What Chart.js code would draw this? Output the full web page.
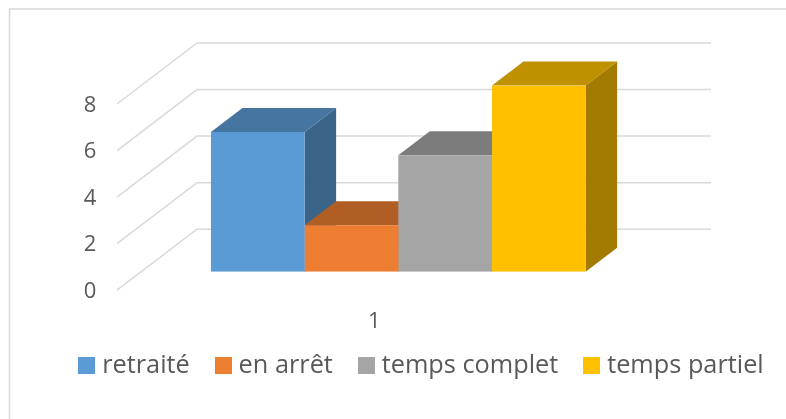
<!DOCTYPE html>
<html>
<head>
<meta charset="utf-8">
<style>
  body { margin: 0; background: #fff; }
  #wrap { width: 786px; height: 419px; }
</style>
<script src="https://cdn.jsdelivr.net/npm/chart.js@4"></script>
</head>
<body>
<div id="wrap"><canvas id="graf"></canvas></div>
<script>
var categories = ["1"];
var seriesNames = ["retraité", "en arrêt", "temps complet", "temps partiel"];
var retraite = [6];
var enArret = [2];
var tempsComplet = [5];
var tempsPartiel = [8];
var seriesValues = [retraite, enArret, tempsComplet, tempsPartiel];

var frontColors = ["#5B9BD5", "#ED7D31", "#A5A5A5", "#FFC000"];
var topColors = ["#4675A1", "#B15E25", "#7C7C7C", "#BF9000"];
var sideColors = ["#3A6488", "#984F1F", "#6A6A6A", "#A37B00"];
var textColor = "#595959";
var gridColor = "#D9D9D9";

// depth of the fake 3D box, in pixels
var barDepthX = 31.5, barDepthY = 24;
// how far the walls sit from the plane of the bars
var wallBackX = 55.7, wallBackY = 42.5;
var wallFrontX = 24.3, wallFrontY = 18.5;
// the legend is not centred on the canvas in the picture
var legendShiftX = 30.8, legendShiftY = -9;

function poly(ctx, pts, color) {
  ctx.fillStyle = color;
  ctx.beginPath();
  ctx.moveTo(pts[0][0], pts[0][1]);
  for (var i = 1; i < pts.length; i++) ctx.lineTo(pts[i][0], pts[i][1]);
  ctx.closePath();
  ctx.fill();
}

// square legend marker, as a canvas so the gap to the text stays tight
function legendSquare(color) {
  var c = document.createElement("canvas");
  c.width = 17;
  c.height = 17;
  var g = c.getContext("2d");
  g.fillStyle = color;
  g.fillRect(0, 0, 17, 17);
  return c;
}

var walls3d = {
  id: "walls3d",
  afterLayout: function (chart) {
    chart.legend.left += legendShiftX;
    chart.legend.right += legendShiftX;
    chart.legend.top += legendShiftY;
    chart.legend.bottom += legendShiftY;
  },
  beforeDatasetsDraw: function (chart) {
    var ctx = chart.ctx, area = chart.chartArea, y = chart.scales.y;
    ctx.save();

    // outer frame, only left and top are in the picture
    ctx.strokeStyle = gridColor;
    ctx.lineWidth = 1.5;
    ctx.beginPath();
    ctx.moveTo(9.5, 419);
    ctx.lineTo(9.5, 9);
    ctx.lineTo(786, 9);
    ctx.stroke();

    // gridlines: side wall then back wall
    y.ticks.forEach(function (t) {
      var py = y.getPixelForValue(t.value);
      ctx.beginPath();
      ctx.moveTo(area.left - wallFrontX, py + wallFrontY);
      ctx.lineTo(area.left + wallBackX, py - wallBackY);
      ctx.lineTo(area.right + wallBackX, py - wallBackY);
      ctx.stroke();
    });

    // sides and tops of the bars, fronts are drawn by the library after this
    seriesValues.forEach(function (v, i) {
      var b = chart.getDatasetMeta(i).data[0];
      var l = b.x - b.width / 2, r = b.x + b.width / 2;
      poly(ctx, [[r, b.y], [r + barDepthX, b.y - barDepthY], [r + barDepthX, b.base - barDepthY], [r, b.base]], sideColors[i]);
      poly(ctx, [[l, b.y], [r, b.y], [r + barDepthX, b.y - barDepthY], [l + barDepthX, b.y - barDepthY]], topColors[i]);
    });
    ctx.restore();
  }
};

var datasets = seriesNames.map(function (name, i) {
  return {
    label: name,
    data: seriesValues[i],
    backgroundColor: frontColors[i],
    borderWidth: 0,
    barPercentage: 1,
    categoryPercentage: 0.729
  };
});

new Chart(document.getElementById("graf"), {
  type: "bar",
  data: { labels: categories, datasets: datasets },
  plugins: [walls3d],
  options: {
    responsive: true,
    maintainAspectRatio: false,
    animation: false,
    layout: { padding: { top: 85.5, left: 0, right: 0, bottom: 21.5 } },
    plugins: {
      tooltip: { enabled: false },
      legend: {
        position: "bottom",
        labels: {
          usePointStyle: true,
          pointStyleWidth: 5.7,
          boxHeight: 17,
          padding: 30.5,
          color: textColor,
          font: { family: "'Open Sans'", size: 25.3 },
          generateLabels: function (chart) {
            var items = Chart.defaults.plugins.legend.labels.generateLabels(chart);
            items.forEach(function (it, i) { it.pointStyle = legendSquare(frontColors[i]); });
            return items;
          }
        }
      }
    },
    scales: {
      x: {
        grid: { display: false, drawTicks: false },
        border: { display: false },
        ticks: { color: textColor, padding: 37, labelOffset: -24, font: { family: "'Open Sans'", size: 22 } },
        afterFit: function (s) { s.height = 60; }
      },
      y: {
        min: 0,
        max: 8,
        grid: { display: false, drawTicks: false },
        border: { display: false },
        ticks: { stepSize: 2, color: textColor, padding: 45, labelOffset: 20, font: { family: "'Open Sans'", size: 22 } },
        afterFit: function (s) { s.width = 141.3; }
      },
      // empty axis, keeps the room on the right side of the plot
      yRight: {
        position: "right",
        grid: { display: false, drawTicks: false },
        border: { display: false },
        ticks: { display: false },
        afterFit: function (s) { s.width = 130.7; }
      }
    }
  }
});
</script>
</body>
</html>
